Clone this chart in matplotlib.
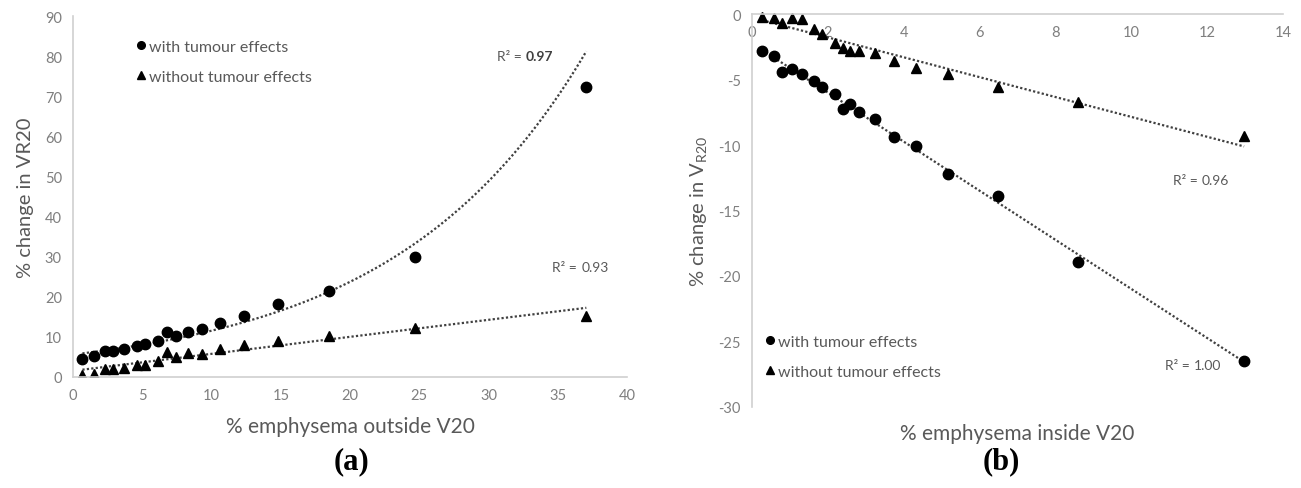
import numpy as np
import matplotlib.pyplot as plt
from matplotlib.lines import Line2D

plt.rcParams['font.family'] = ['Lato', 'DejaVu Sans']
plt.rcParams['axes.unicode_minus'] = False

GREY = '#595959'
TICK = '#7f7f7f'
AXIS = '#d0d0d0'

# (a) % emphysema outside V20
out_x = [0.68, 1.5, 2.3, 2.9, 3.7, 4.6, 5.2, 6.1, 6.75, 7.4, 8.3, 9.3, 10.6, 12.35, 14.8, 18.5, 24.7, 37.05]
out_with = [4.6, 5.2, 6.4, 6.4, 7.0, 7.7, 8.3, 9.0, 11.2, 10.2, 11.2, 12.0, 13.5, 15.1, 18.2, 21.4, 30.0, 72.4]
out_without = [0.6, 0.8, 2.1, 2.1, 2.2, 2.9, 3.1, 4.1, 6.2, 5.0, 6.1, 5.8, 7.0, 7.9, 9.0, 10.2, 12.2, 15.3]

# (b) % emphysema inside V20
in_x = [0.27, 0.57, 0.8, 1.06, 1.31, 1.64, 1.86, 2.19, 2.41, 2.59, 2.82, 3.25, 3.74, 4.32, 5.16, 6.49, 8.61, 12.98]
in_with = [-2.8, -3.2, -4.4, -4.2, -4.6, -5.1, -5.6, -6.1, -7.25, -6.9, -7.5, -8.0, -9.4, -10.05, -12.2, -13.9, -18.9, -26.5]
in_without = [-0.18, -0.3, -0.64, -0.33, -0.38, -1.1, -1.5, -2.2, -2.6, -2.8, -2.8, -3.0, -3.6, -4.1, -4.6, -5.6, -6.7, -9.3]

labels = ['with tumour effects', 'without tumour effects']


def r2_text(ax, x, y, value, bold=False):
    t = ax.text(x, y, 'R² =', fontsize=10, color=GREY, ha='left', va='center')
    ax.annotate(value, xy=(1, 0), xycoords=t, xytext=(3, 0), textcoords='offset points',
                va='bottom', ha='left', fontsize=10,
                color='#404040' if bold else GREY,
                fontweight='bold' if bold else 'normal')


def style(ax):
    for s in ['top', 'right', 'bottom', 'left']:
        ax.spines[s].set_color(AXIS)
        ax.spines[s].set_linewidth(1.2)
    ax.spines['top'].set_visible(False)
    ax.spines['right'].set_visible(False)
    ax.tick_params(length=0, labelsize=10.5, labelcolor=TICK, pad=8)


def legend(ax, **kw):
    handles = [Line2D([], [], marker='o', ls='none', color='black', ms=5.5),
               Line2D([], [], marker='^', ls='none', color='black', ms=5.5)]
    return ax.legend(handles, labels, frameon=False, fontsize=11.5, handletextpad=0.1,
                     handlelength=0.8, labelspacing=1.0, labelcolor=GREY, **kw)


fig = plt.figure(figsize=(13.01, 4.89), dpi=100)

# ---- (a)
ax1 = fig.add_axes([0.0561, 0.227, 0.426, 0.738])
style(ax1)

xs = np.array(out_x)
b, a = np.polyfit(xs, np.log(out_with), 1)
xx = np.linspace(xs.min(), xs.max(), 200)
ax1.plot(xx, np.exp(a) * np.exp(b * xx), ls=(0, (1, 1)), color='#404040', lw=1.6)
m, c = np.polyfit(xs, out_without, 1)
ax1.plot(xx, m * xx + c, ls=(0, (1, 1)), color='#404040', lw=1.6)

ax1.plot(out_x, out_with, 'o', color='black', ms=7.5)
ax1.plot(out_x, out_without, '^', color='black', ms=7.5)

ax1.set_xlim(0, 40)
ax1.set_ylim(0, 90)
ax1.set_xticks(range(0, 41, 5))
ax1.set_yticks(range(0, 91, 10))
ax1.set_xlabel('% emphysema outside V20', fontsize=15, color=GREY, labelpad=10)
ax1.set_ylabel('% change in VR20', fontsize=14.5, color=GREY, labelpad=8)
r2_text(ax1, 30.6, 80, '0.97', bold=True)
r2_text(ax1, 34.6, 27.5, '0.93')
legend(ax1, loc='upper left', bbox_to_anchor=(0.085, 0.975))
fig.text(0.27, 0.055, '(a)', fontsize=22, fontweight='bold', family='Liberation Serif',
         ha='center', va='center')

# ---- (b)
ax2 = fig.add_axes([0.578, 0.166, 0.408, 0.803])
style(ax2)
ax2.spines['bottom'].set_position(('data', 0))

xs = np.array(in_x)
xx = np.linspace(xs.min(), xs.max(), 200)
m, c = np.polyfit(xs, in_with, 1)
ax2.plot(xx, m * xx + c, ls=(0, (1, 1)), color='#404040', lw=1.6)
m, c = np.polyfit(xs, in_without, 1)
ax2.plot(xx, m * xx + c, ls=(0, (1, 1)), color='#404040', lw=1.6)

ax2.plot(in_x, in_with, 'o', color='black', ms=7.5, clip_on=False)
ax2.plot(in_x, in_without, '^', color='black', ms=7.5, clip_on=False)

ax2.set_xlim(0, 14)
ax2.set_ylim(-30, 0)
ax2.set_xticks(range(0, 15, 2))
ax2.set_yticks(range(-30, 1, 5))
ax2.set_ylabel('% change in V$_{\\mathregular{R20}}$', fontsize=14.5, color=GREY, labelpad=6)
ax2.text(0.5, -0.04, '% emphysema inside V20', transform=ax2.transAxes, fontsize=15,
         color=GREY, ha='center', va='top')
r2_text(ax2, 11.1, -12.7, '0.96')
r2_text(ax2, 10.9, -26.8, '1.00')
legend(ax2, loc='lower left', bbox_to_anchor=(-0.005, 0.035))
fig.text(0.77, 0.055, '(b)', fontsize=22, fontweight='bold', family='Liberation Serif',
         ha='center', va='center')

fig.savefig('out.png', dpi=100)
